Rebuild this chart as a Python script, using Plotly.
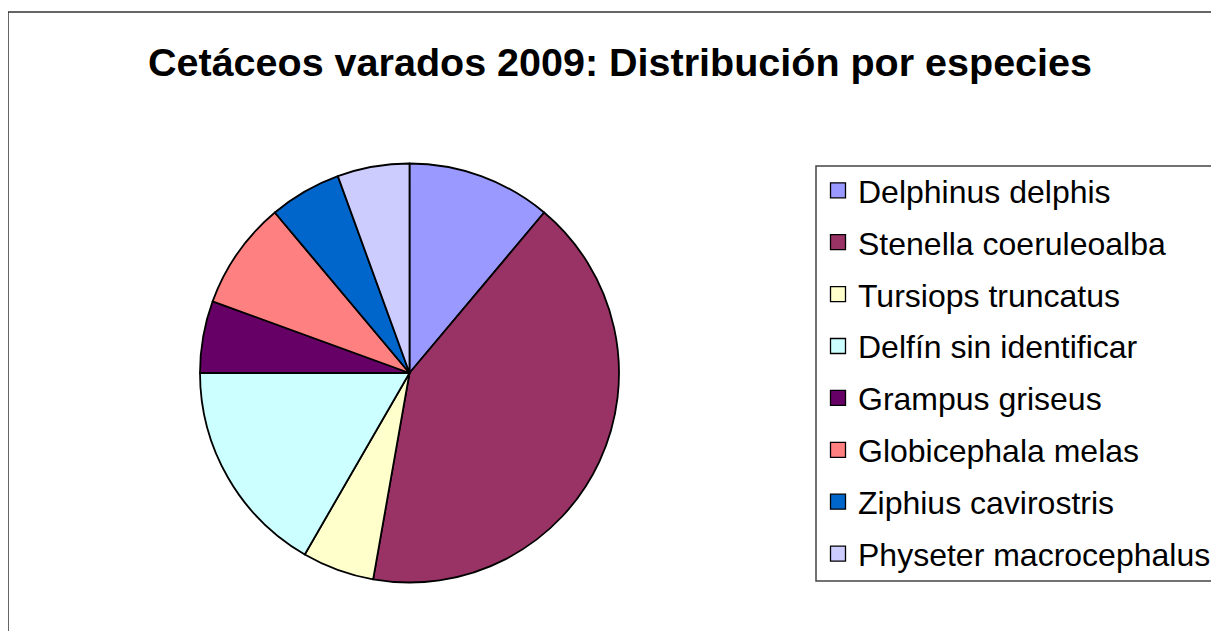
import plotly.graph_objects as go

species = ["Delphinus delphis", "Stenella coeruleoalba", "Tursiops truncatus",
           "Delfín sin identificar", "Grampus griseus", "Globicephala melas",
           "Ziphius cavirostris", "Physeter macrocephalus"]
counts = [4, 15, 2, 6, 2, 3, 2, 2]
colors = ["#9999FF", "#993366", "#FFFFCC", "#CCFFFF", "#660066", "#FF8080",
          "#0066CC", "#CCCCFF"]
title_text = "Cetáceos varados 2009: Distribución por especies"

W, H = 1219, 631
OFF = 8  # page body margin
FONT = "Liberation Sans, Arial, sans-serif"


def px(x):
    return (x - OFF) / W


def py(y):
    return 1 - (y - OFF) / H


fig = go.Figure()

cx, cy, r = 409.5, 373, 209.5
fig.add_trace(go.Pie(
    labels=species, values=counts, sort=False, direction="clockwise",
    rotation=0, textinfo="none", hoverinfo="skip", showlegend=False,
    marker=dict(colors=colors, line=dict(color="black", width=1.8)),
    domain=dict(x=[px(cx - r), px(cx + r)], y=[py(cy + r), py(cy - r)]),
))

for name, col in zip(species, colors):
    fig.add_trace(go.Scatter(
        x=[None], y=[None], mode="markers", name=name, legendgroup=name,
        marker=dict(symbol="square", size=15, color=col,
                    line=dict(color="black", width=1.3)),
        hoverinfo="skip",
    ))

# chart border and legend border
fig.add_shape(type="rect", xref="paper", yref="paper",
              x0=px(8), x1=1.05, y0=-0.05, y1=py(12),
              line=dict(color="#333333", width=1.5), fillcolor="rgba(0,0,0,0)")
fig.add_shape(type="rect", xref="paper", yref="paper",
              x0=px(816), x1=1.05, y0=py(581), y1=py(166),
              line=dict(color="#444444", width=1.5), fillcolor="rgba(0,0,0,0)")

fig.update_layout(
    width=W, height=H,
    margin=dict(l=0, r=0, t=0, b=0),
    paper_bgcolor="white", plot_bgcolor="white",
    font=dict(family=FONT, color="black"),
    title=dict(text="<b>" + title_text + "</b>", x=px(620), xanchor="center",
               y=py(62), yanchor="middle", xref="paper", yref="paper",
               font=dict(size=39.5, family=FONT, color="black")),
    xaxis=dict(visible=False), yaxis=dict(visible=False),
    legend=dict(x=px(818), xanchor="left", y=py(163), yanchor="top",
                font=dict(size=32, family=FONT, color="black"),
                tracegroupgap=7.3, bgcolor="rgba(0,0,0,0)", borderwidth=0,
                itemclick=False, itemdoubleclick=False),
    showlegend=True,
)

fig.write_html("out.html")
